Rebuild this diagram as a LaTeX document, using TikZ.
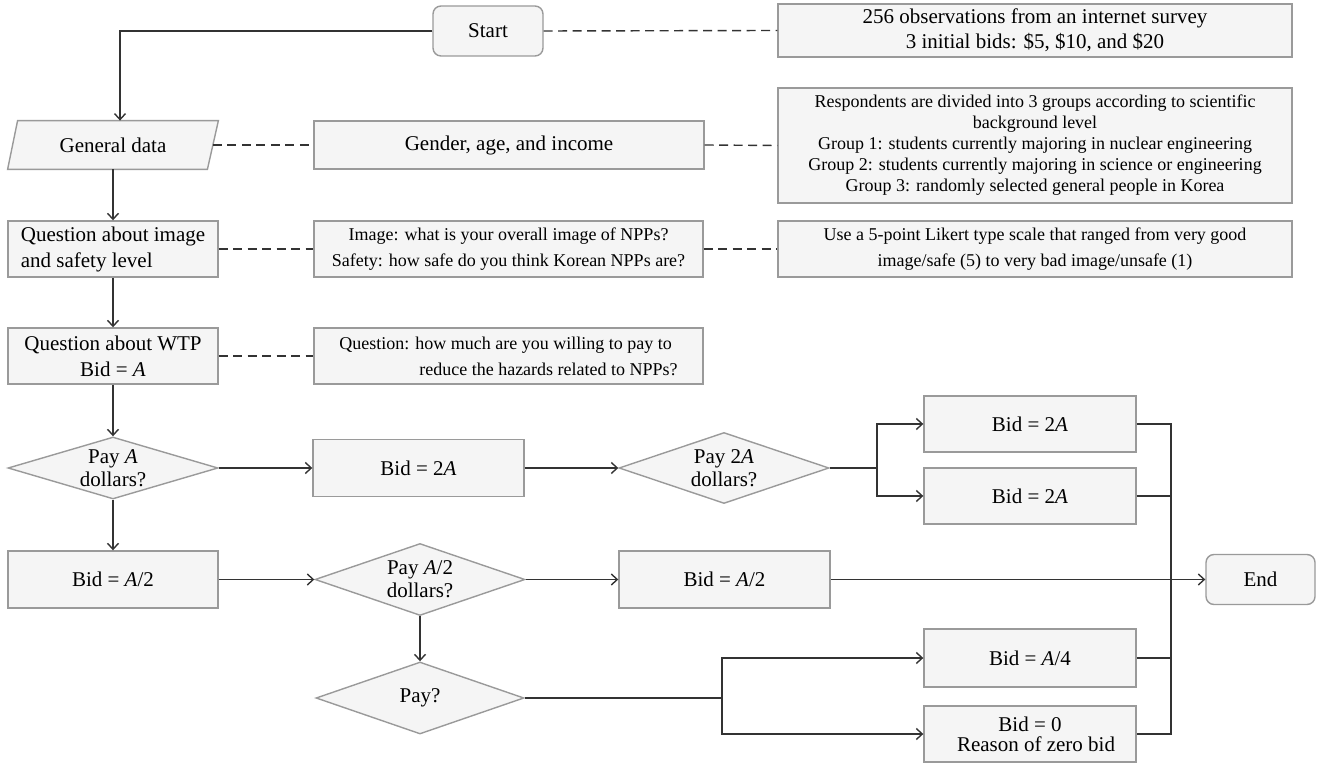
\documentclass[tikz,border=0pt]{standalone}
\usepackage{fontspec}
\setmainfont{Liberation Serif}
\usetikzlibrary{shapes.geometric,arrows.meta,calc,backgrounds}
\definecolor{boxfill}{HTML}{F5F5F5}
\definecolor{boxdraw}{HTML}{9A9A9A}
\definecolor{linec}{HTML}{333333}
\begin{document}
\begin{tikzpicture}[x=0.5pt,y=-0.5pt,
  box/.style={draw=boxdraw,fill=boxfill,line width=0.7pt,inner sep=0pt,align=center,font=\fontsize{10.5}{13}\selectfont},
  rbox/.style={box,rounded corners=4pt},
  desc/.style={box,font=\fontsize{9}{13}\selectfont},
  dia/.style={diamond,draw=boxdraw,fill=boxfill,line width=0.7pt,inner sep=0pt},
  dlab/.style={align=center,font=\fontsize{10.5}{11.5}\selectfont,inner sep=0pt},
  conn/.style={draw=linec,line width=0.7pt},
  arr/.style={conn,-{Straight Barb[length=3pt,width=5.5pt]}},
  dsh/.style={draw=linec,line width=0.7pt,dash pattern=on 4.5pt off 2.75pt},
]
\useasboundingbox (0,0) rectangle (1320,763);

% top rows
\node[rbox,minimum width=55pt,minimum height=25pt] (start) at (488,31) {Start};
\node[box,minimum width=257pt,minimum height=26.5pt,font=\fontsize{10.5}{12.5}\selectfont] (obs) at (1035,30.5)
  {256 observations from an internet survey\\3 initial bids: \$5, \$10, and \$20};

\node[inner sep=0pt,minimum width=105pt,minimum height=24pt,font=\fontsize{10.5}{13}\selectfont] (gd) at (113,145) {General data};
\begin{scope}[on background layer]
\filldraw[draw=boxdraw,fill=boxfill,line width=0.7pt]
  ([xshift=5pt]gd.north west) -- (gd.north east) -- ([xshift=-5.5pt]gd.south east) -- (gd.south west) -- cycle;
\end{scope}
\node[box,minimum width=195pt,minimum height=24pt] (gender) at (509,145) {Gender, age, and income};
\node[desc,minimum width=257pt,minimum height=57.5pt,font=\fontsize{9}{10.5}\selectfont] (group) at (1035,145.5)
  {Respondents are divided into 3 groups according to scientific\\background level\\Group 1: students currently majoring in nuclear engineering\\Group 2: students currently majoring in science or engineering\\Group 3: randomly selected general people in Korea};

\node[box,minimum width=105pt,minimum height=28pt,align=left] (qi) at (113,249) {Question about image\\and safety level};
\node[desc,minimum width=194.5pt,minimum height=28pt] (img) at (508.5,249)
  {Image: what is your overall image of NPPs?\\Safety: how safe do you think Korean NPPs are?};
\node[desc,minimum width=257pt,minimum height=28pt] (likert) at (1035,249)
  {Use a 5-point Likert type scale that ranged from very good\\image/safe (5) to very bad image/unsafe (1)};

\node[box,minimum width=105pt,minimum height=28pt] (wtp) at (113,356) {Question about WTP\\Bid = \textit{A}};
\node[desc,minimum width=194.5pt,minimum height=28pt,align=left] (qbox) at (508.5,356)
  {Question: how much are you willing to pay to\\\hspace*{40pt}reduce the hazards related to NPPs?};

% decision part
\node[dia,minimum width=105pt,minimum height=31pt,label={[dlab]center:Pay \textit{A}\\dollars?}] (payA) at (113,468) {};
\node[box,minimum width=105.5pt,minimum height=28.5pt] (bid2a) at (418.5,468) {Bid = 2\textit{A}};
\node[dia,minimum width=105pt,minimum height=35.5pt,label={[dlab]center:Pay 2\textit{A}\\dollars?}] (pay2a) at (724,468) {};
\node[box,minimum width=106pt,minimum height=28pt] (b2a1) at (1030,424) {Bid = 2\textit{A}};
\node[box,minimum width=106pt,minimum height=28pt] (b2a2) at (1030,496) {Bid = 2\textit{A}};

\node[box,minimum width=105pt,minimum height=28.5pt] (bA2l) at (113,579.5) {Bid = \textit{A}/2};
\node[dia,minimum width=105pt,minimum height=36pt,label={[dlab]center:Pay \textit{A}/2\\dollars?}] (payA2) at (420,579.5) {};
\node[box,minimum width=105.5pt,minimum height=28.5pt] (bA2r) at (724.5,579.5) {Bid = \textit{A}/2};
\node[rbox,minimum width=54.5pt,minimum height=25pt] (end) at (1260.5,579.5) {End};

\node[dia,minimum width=104pt,minimum height=36pt,label={[dlab]center:Pay?}] (payq) at (420,698) {};
\node[box,minimum width=106pt,minimum height=29pt] (bA4) at (1030,658) {Bid = \textit{A}/4};
\node[box,minimum width=106pt,minimum height=28pt,font=\fontsize{10.5}{10}\selectfont] (bid0) at (1030,734) {Bid = 0\\\hspace*{6pt}Reason of zero bid};

% connectors
\draw[arr] (start.west) -| ([xshift=3.5pt]gd.north);
\draw[arr] (gd.south) -- (qi.north);
\draw[arr] (qi.south) -- (wtp.north);
\draw[arr] (wtp.south) -- (payA.north);
\draw[arr] (payA.east) -- (bid2a.west);
\draw[arr] (bid2a.east) -- (pay2a.west);
\coordinate (br1) at (877,468);
\draw[conn] (pay2a.east) -- (br1);
\draw[arr] (br1) |- (b2a1.west);
\draw[arr] (br1) |- (b2a2.west);
\draw[arr] (payA.south) -- (bA2l.north);
\draw[arr] (bA2l.east) -- (payA2.west);
\draw[arr] (payA2.east) -- (bA2r.west);
\draw[arr] (bA2r.east) -- (end.west);
\draw[arr] (payA2.south) -- (payq.north);
\coordinate (br2) at (722,698);
\draw[conn] (payq.east) -- (br2);
\draw[arr] (br2) |- (bA4.west);
\draw[arr] (br2) |- (bid0.west);
\coordinate (col) at (1171,424);
\draw[conn] (b2a1.east) -- (b2a1.east -| col) -- (bid0.east -| col) -- (bid0.east);
\draw[conn] (b2a2.east) -- (b2a2.east -| col);
\draw[conn] (bA4.east) -- (bA4.east -| col);

% dashed links
\draw[dsh] (start.east) -- (obs.west);
\draw[dsh] ([xshift=-2.75pt]gd.east) -- (gender.west);
\draw[dsh] (gender.east) -- (group.west);
\draw[dsh] (qi.east) -- (img.west);
\draw[dsh] (img.east) -- (likert.west);
\draw[dsh] (wtp.east) -- (qbox.west);
\end{tikzpicture}
\end{document}
